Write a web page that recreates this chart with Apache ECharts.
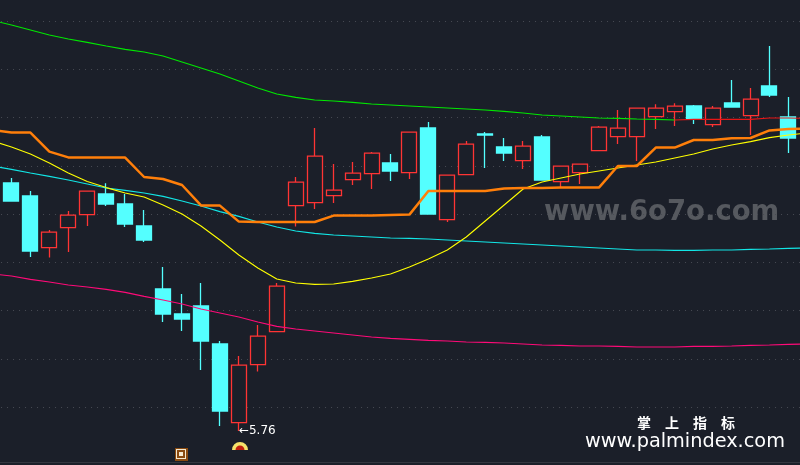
<!DOCTYPE html>
<html>
<head>
<meta charset="utf-8">
<style>
  html, body { margin: 0; padding: 0; background: #1b1f29; }
  #chart { width: 800px; height: 465px; }
</style>
<script src="https://cdn.jsdelivr.net/npm/echarts@6/dist/echarts.min.js"></script>
</head>
<body>
<div id="chart"></div>
<script>
// one row per candle: open, close, low, high. The first and last slots are off-screen and only carry the lines
const candles = [
  '-',
  [7.00, 6.91, 6.91, 7.025],
  [6.935, 6.66, 6.63, 6.96],
  [6.677, 6.754, 6.627, 6.765],
  [6.777, 6.839, 6.655, 6.86],
  [6.842, 6.959, 6.785, 6.959],
  [6.945, 6.895, 6.885, 6.999],
  [6.895, 6.795, 6.78, 6.945],
  [6.785, 6.715, 6.705, 6.865],
  [6.47, 6.345, 6.305, 6.58],
  [6.345, 6.32, 6.26, 6.445],
  [6.385, 6.21, 6.065, 6.5],
  [6.195, 5.86, 5.785, 6.21],
  [5.802, 6.089, 5.76, 6.135],
  [6.092, 6.234, 6.057, 6.29],
  [6.257, 6.484, 6.257, 6.5],
  [6.887, 7.004, 6.782, 7.03],
  [6.902, 7.134, 6.87, 7.275],
  [6.937, 6.964, 6.9, 7.095],
  [7.017, 7.049, 6.99, 7.105],
  [7.047, 7.149, 6.97, 7.155],
  [7.1, 7.06, 7.01, 7.145],
  [7.052, 7.254, 7.02, 7.254],
  [7.275, 6.845, 6.845, 7.305],
  [6.817, 7.039, 6.805, 7.039],
  [7.042, 7.194, 7.042, 7.21],
  [7.245, 7.24, 7.075, 7.255],
  [7.18, 7.15, 7.11, 7.225],
  [7.112, 7.184, 7.07, 7.21],
  [7.23, 7.015, 7.015, 7.24],
  [7.007, 7.084, 6.98, 7.084],
  [7.052, 7.094, 6.995, 7.094],
  [7.162, 7.279, 7.162, 7.285],
  [7.232, 7.274, 7.195, 7.365],
  [7.232, 7.374, 7.11, 7.374],
  [7.332, 7.374, 7.27, 7.394],
  [7.357, 7.384, 7.285, 7.399],
  [7.385, 7.32, 7.295, 7.39],
  [7.292, 7.374, 7.28, 7.385],
  [7.4, 7.38, 7.38, 7.515],
  [7.337, 7.419, 7.24, 7.475],
  [7.485, 7.44, 7.43, 7.685],
  [7.33, 7.225, 7.15, 7.43],
  '-'
];
const categories = candles.map((_, i) => i);

const orangeLine = [7.265, 7.253, 7.252, 7.157, 7.128, 7.127, 7.127, 7.127, 7.03, 7.02, 6.99,
  6.888, 6.887, 6.807, 6.805, 6.805, 6.805, 6.805, 6.837, 6.837, 6.837, 6.84, 6.842,
  6.96, 6.96, 6.96, 6.96, 6.973, 6.975, 6.975, 6.977, 6.977, 6.977, 7.085, 7.085,
  7.177, 7.177, 7.215, 7.215, 7.224, 7.225, 7.263, 7.27, 7.273];
const yellowLine = [7.21, 7.18, 7.145, 7.1, 7.05, 7.007, 6.977, 6.95, 6.93, 6.89, 6.845,
  6.785, 6.715, 6.64, 6.575, 6.52, 6.5, 6.493, 6.495, 6.508, 6.525, 6.545,
  6.58, 6.62, 6.665, 6.73, 6.81, 6.89, 6.97, 7.005, 7.025, 7.045, 7.06,
  7.075, 7.09, 7.105, 7.125, 7.145, 7.17, 7.19, 7.207, 7.227, 7.24, 7.25];
const cyanLine = [7.085, 7.068, 7.05, 7.033, 7.015, 6.995, 6.975, 6.963, 6.95, 6.933, 6.91,
  6.885, 6.857, 6.833, 6.805, 6.78, 6.76, 6.748, 6.74, 6.735, 6.73, 6.725,
  6.723, 6.72, 6.715, 6.71, 6.705, 6.7, 6.695, 6.69, 6.685, 6.68, 6.675,
  6.67, 6.665, 6.665, 6.663, 6.663, 6.665, 6.665, 6.668, 6.67, 6.673, 6.675];
const pinkLine = [6.545, 6.535, 6.518, 6.505, 6.49, 6.48, 6.468, 6.453, 6.433, 6.415, 6.395,
  6.37, 6.35, 6.33, 6.305, 6.283, 6.27, 6.26, 6.25, 6.24, 6.23, 6.223,
  6.218, 6.213, 6.21, 6.205, 6.203, 6.2, 6.195, 6.19, 6.188, 6.185, 6.185,
  6.183, 6.18, 6.18, 6.18, 6.183, 6.183, 6.185, 6.188, 6.19, 6.193, 6.195];
const greenLine = [7.813, 7.79, 7.765, 7.74, 7.72, 7.703, 7.685, 7.668, 7.655, 7.635, 7.605,
  7.575, 7.545, 7.51, 7.475, 7.445, 7.428, 7.415, 7.41, 7.403, 7.395, 7.39,
  7.385, 7.38, 7.375, 7.37, 7.365, 7.358, 7.35, 7.34, 7.335, 7.33, 7.325,
  7.323, 7.32, 7.318, 7.315];
const redLine = [7.315, 7.318, 7.318, 7.318, 7.318, 7.325, 7.325, 7.323];
const gridLevels = [5.88, 6.12, 6.3625, 6.605, 6.845, 7.085, 7.3275, 7.57, 7.81];
const lowIndex = 13;
const lowPrice = 5.76;

const chart = echarts.init(document.getElementById('chart'));

function lineSeries(data, color, width) {
  return {
    type: 'line',
    data,
    symbol: 'none',
    silent: true,
    animation: false,
    lineStyle: { color, width }
  };
}

chart.setOption({
  animation: false,
  backgroundColor: '#1b1f29',
  grid: { left: -16.95, top: 0, width: 833.8, height: 465, outerBoundsMode: 'none' },
  xAxis: {
    type: 'category',
    data: categories,
    show: false
  },
  yAxis: {
    type: 'value',
    min: 5.59,
    max: 7.915,
    axisLine: { show: false },
    axisLabel: { show: false },
    axisTick: { show: false, customValues: gridLevels },
    splitLine: {
      show: true,
      lineStyle: { color: '#484b53', type: [1, 5], width: 1 }
    }
  },
  series: [
    {
      type: 'candlestick',
      data: candles,
      barWidth: 15.5,
      itemStyle: {
        color: '#1b1f29',
        color0: '#54ffff',
        borderColor: '#ff3434',
        borderColor0: '#54ffff',
        borderWidth: 1.3
      },
      markPoint: {
        silent: true,
        animation: false,
        symbol: 'circle',
        symbolSize: 0,
        label: {
          show: true,
          position: 'right',
          distance: 0,
          color: '#ffffff',
          fontFamily: 'DejaVu Sans',
          fontSize: 12,
          formatter: '←' + lowPrice
        },
        data: [{ coord: [lowIndex, lowPrice] }]
      }
    },
    lineSeries(greenLine, '#00e800', 1.1),
    lineSeries([...Array(36).fill(null), ...redLine], '#e81515', 1.2),
    lineSeries(pinkLine, '#ff0a78', 1.1),
    lineSeries(cyanLine, '#12e6e6', 1.1),
    lineSeries(yellowLine, '#ffff00', 1.1),
    lineSeries(orangeLine, '#ff7f0a', 2.5)
  ],
  graphic: [
    {
      type: 'text',
      left: 544,
      top: 199,
      style: {
        text: 'www.6o7o.com',
        fill: '#56595f',
        fontFamily: 'DejaVu Sans',
        fontWeight: 'bold',
        fontSize: 27.5
      }
    },
    {
      type: 'text',
      left: 637,
      top: 416,
      style: {
        text: '掌　上　指　标',
        fill: '#ffffff',
        fontFamily: 'Noto Sans CJK SC',
        fontWeight: 'bold',
        fontSize: 14
      }
    },
    {
      type: 'text',
      left: 585,
      top: 432,
      style: {
        text: 'www.palmindex.com',
        fill: '#ffffff',
        fontFamily: 'DejaVu Sans',
        fontSize: 19.3
      }
    },
    // bottom frame line
    {
      type: 'rect',
      shape: { x: 0, y: 462, width: 800, height: 1 },
      style: { fill: '#33363f' }
    },
    // the two signal icons under the low
    {
      type: 'group',
      x: 181,
      y: 454,
      children: [
        { type: 'rect', shape: { x: -6, y: -6, width: 13, height: 13 }, style: { fill: '#8a4a10' } },
        { type: 'rect', shape: { x: -5, y: -5, width: 10, height: 10 }, style: { fill: '#f5e9d0' } },
        { type: 'rect', shape: { x: -4, y: -4, width: 8, height: 8 }, style: { fill: '#8a4a10' } },
        { type: 'rect', shape: { x: -2, y: -2, width: 4, height: 4 }, style: { fill: '#f5e9d0' } }
      ]
    },
    {
      type: 'group',
      x: 240,
      y: 450,
      children: [
        { type: 'sector', shape: { cx: 0, cy: 0, r: 8, r0: 0, startAngle: Math.PI, endAngle: 2 * Math.PI }, style: { fill: '#f5e26a' } },
        { type: 'sector', shape: { cx: 0, cy: 0, r: 4.5, r0: 0, startAngle: Math.PI, endAngle: 2 * Math.PI }, style: { fill: '#c0200f' } }
      ]
    }
  ]
});
</script>
</body>
</html>
